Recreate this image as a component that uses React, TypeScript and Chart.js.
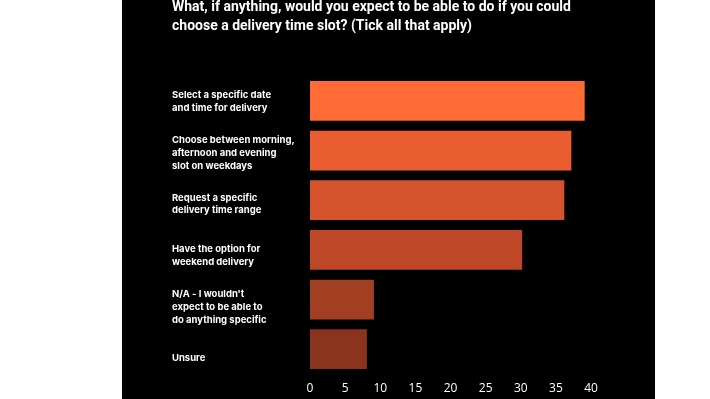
import React, { useEffect, useRef } from "react";
import { Chart, registerables } from "chart.js";

Chart.register(...registerables);

const titleLines = [
  "What, if anything, would you expect to be able to do if you could",
  "choose a delivery time slot? (Tick all that apply)",
];

const categories: string[][] = [
  ["Select a specific date", "and time for delivery"],
  ["Choose between morning,", "afternoon and evening", "slot on weekdays"],
  ["Request a specific", "delivery time range"],
  ["Have the option for", "weekend delivery"],
  ["N/A - I wouldn't", "expect to be able to", "do anything specific"],
  ["Unsure"],
];

const values = [39.1, 37.2, 36.2, 30.2, 9.1, 8.1];

const barColors = ["#FF6A35", "#E95D31", "#D4522C", "#BD4727", "#A23E22", "#8A341D"];

const xMin = 0;
const xMax = 40;
const xStep = 5;

// label column range (labels are spaced slightly wider than the bars)
const labelMin = -0.012;
const labelMax = 4.823;

export default function App() {
  const ref = useRef<HTMLCanvasElement | null>(null);

  useEffect(() => {
    if (!ref.current) return;
    const chart = new Chart(ref.current, {
      type: "bar",
      data: {
        labels: categories.map((c) => c.join(" ")),
        datasets: [
          {
            data: values,
            backgroundColor: barColors,
            borderWidth: 0,
            barPercentage: 0.8,
            categoryPercentage: 1.0,
          },
        ],
      },
      options: {
        indexAxis: "y",
        animation: false,
        responsive: false,
        maintainAspectRatio: false,
        layout: { padding: { left: 50, right: 64, top: 0, bottom: 2.6 } },
        plugins: {
          legend: { display: false },
          tooltip: { enabled: false },
          title: {
            display: true,
            text: titleLines,
            align: "start",
            color: "#ffffff",
            font: { family: "Roboto", size: 14, weight: "bold", lineHeight: 1.36 },
            padding: { top: 0, bottom: 40 },
          },
        },
        scales: {
          x: {
            min: xMin,
            max: xMax,
            grid: { display: false, drawTicks: false },
            border: { display: false },
            ticks: {
              stepSize: xStep,
              color: "#ffffff",
              padding: 7,
              font: { family: "Open Sans", size: 12, weight: "500" },
            },
          },
          y: {
            display: false,
          },
          yLabels: {
            type: "linear",
            position: "left",
            reverse: true,
            min: labelMin,
            max: labelMax,
            grid: { display: false, drawTicks: false },
            border: { display: false },
            afterBuildTicks: (scale: any) => {
              scale.ticks = categories.map((_, i) => ({ value: i }));
            },
            afterFit: (scale: any) => {
              scale.width = 138;
            },
            ticks: {
              crossAlign: "far",
              color: "#ffffff",
              padding: 0,
              autoSkip: false,
              callback: (v: any) => categories[Math.round(Number(v))] ?? "",
              font: { family: "Inter", size: 9.5, weight: "bold", lineHeight: 1.35 },
            },
          },
        },
      },
    });
    return () => chart.destroy();
  }, []);

  return (
    <div
      style={{
        position: "absolute",
        left: 122,
        top: 0,
        width: 533,
        height: 399,
        background: "#000000",
        overflow: "hidden",
      }}
    >
      <canvas
        ref={ref}
        width={533}
        height={407}
        style={{ position: "absolute", left: 0, top: -2, width: 533, height: 407 }}
      />
    </div>
  );
}
